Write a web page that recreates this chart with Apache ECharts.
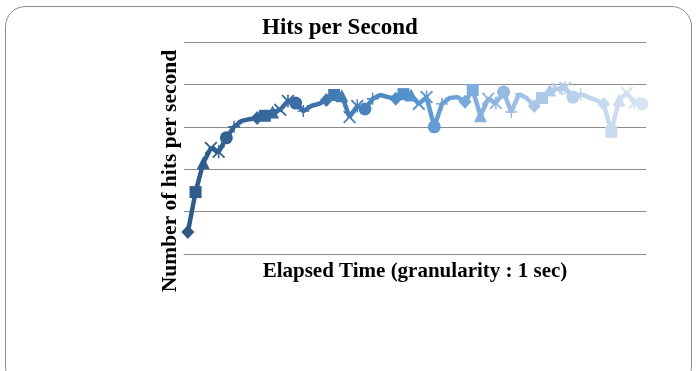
<!DOCTYPE html>
<html>
<head>
<meta charset="utf-8">
<script src="https://cdn.jsdelivr.net/npm/echarts@6/dist/echarts.min.js"></script>
<style>
html,body{margin:0;padding:0;background:#fff;}
#chart{width:696px;height:371px;}
</style>
</head>
<body>
<div id="chart"></div>
<script>
// Elapsed seconds (category labels, hidden in the reference)
const seconds = Array.from({length: 60}, (_, i) => String(i + 1));
// Hits per second (axis range 0-50, no tick labels shown)
const hits = [
  5.2, 14.6, 21.5, 25.0, 24.1, 27.4, 30.0, 31.4, 31.8, 32.1,
  32.6, 33.5, 34.0, 36.1, 35.6, 33.7, 34.9, 35.4, 36.3, 37.5,
  37.3, 32.3, 34.9, 34.2, 36.6, 37.5, 37.0, 36.6, 37.7, 37.5,
  35.4, 37.0, 30.0, 35.4, 36.8, 37.0, 35.9, 38.7, 32.6, 36.6,
  35.6, 38.2, 33.5, 37.7, 36.8, 34.9, 36.8, 38.7, 38.9, 39.2,
  37.0, 37.7, 37.0, 36.3, 35.4, 28.8, 36.3, 38.0, 35.6, 35.4
];
const titleText = 'Hits per Second';
const xTitle = 'Elapsed Time (granularity : 1 sec)';
const yTitle = 'Number of hits per second';

const SERIF = "'Liberation Serif','Times New Roman',serif";
const X_PATH = 'path://M0,1 L1,0 L10,9 L9,10 Z M9,0 L10,1 L1,10 L0,9 Z';
const STAR_PATH = 'path://M0,1 L1,0 L10,9 L9,10 Z M9,0 L10,1 L1,10 L0,9 Z M4.4,0 L5.6,0 L5.6,10 L4.4,10 Z';
const PLUS_PATH = 'path://M4.4,0 L5.6,0 L5.6,4.4 L10,4.4 L10,5.6 L5.6,5.6 L5.6,10 L4.4,10 L4.4,5.6 L0,5.6 L0,4.4 L4.4,4.4 Z';
const DASH_PATH = 'path://M0,0 L10,0 L10,2 L0,2 Z';
const markerCycle = [
  {symbol: 'diamond', size: [13, 14]},
  {symbol: 'rect', size: 12},
  {symbol: 'triangle', size: 13},
  {symbol: X_PATH, size: 13},
  {symbol: STAR_PATH, size: 13},
  {symbol: 'circle', size: 13},
  {symbol: PLUS_PATH, size: 12},
  {symbol: DASH_PATH, size: [8, 2]},
  {symbol: 'circle', size: 4}
];

const seriesData = hits.map((v, i) => {
  const m = markerCycle[i % markerCycle.length];
  return {value: [i, v], symbol: m.symbol, symbolSize: m.size};
});

const chart = echarts.init(document.getElementById('chart'), null, {renderer: 'canvas'});
chart.setOption({
  animation: false,
  backgroundColor: '#ffffff',
  title: {
    text: titleText,
    left: 257,
    top: 12,
    textStyle: {fontFamily: SERIF, fontWeight: 'bold', fontSize: 23, color: '#000'}
  },
  grid: {left: 184, right: 50, top: 42, bottom: 117},
  xAxis: {
    type: 'category',
    data: seconds,
    boundaryGap: true,
    name: xTitle,
    nameLocation: 'middle',
    nameGap: 7,
    nameTextStyle: {fontFamily: SERIF, fontWeight: 'bold', fontSize: 21, color: '#000', verticalAlign: 'top'},
    axisLine: {show: true, lineStyle: {color: '#8c8c8c', width: 1}},
    axisTick: {show: false},
    axisLabel: {show: false}
  },
  yAxis: {
    type: 'value',
    min: 0,
    max: 50,
    interval: 10,
    axisLine: {show: false},
    axisTick: {show: false},
    axisLabel: {show: false},
    splitLine: {show: true, lineStyle: {color: '#8c8c8c', width: 1}}
  },
  visualMap: {
    show: false,
    type: 'continuous',
    dimension: 0,
    seriesIndex: 0,
    min: 0,
    max: hits.length - 1,
    inRange: {color: ['#2E5A88', '#3B6FA5', '#5594D0', '#A6C4E7', '#D8E3F3']}
  },
  series: [{
    type: 'line',
    data: seriesData,
    showSymbol: true,
    showAllSymbol: true,
    lineStyle: {width: 4.5},
    itemStyle: {borderWidth: 0},
    emphasis: {disabled: true}
  }],
  graphic: [
    {
      type: 'rect',
      silent: true,
      z: -10,
      shape: {x: 5.5, y: 6.5, width: 686, height: 380, r: 20},
      style: {fill: 'none', stroke: '#8c8c8c', lineWidth: 1}
    },
    {
      type: 'text',
      x: 170,
      y: 171,
      rotation: Math.PI / 2,
      style: {
        text: yTitle,
        font: "bold 21.5px 'Liberation Serif','Times New Roman',serif",
        fill: '#000',
        textAlign: 'center',
        textVerticalAlign: 'middle'
      }
    }
  ]
});
</script>
</body>
</html>
